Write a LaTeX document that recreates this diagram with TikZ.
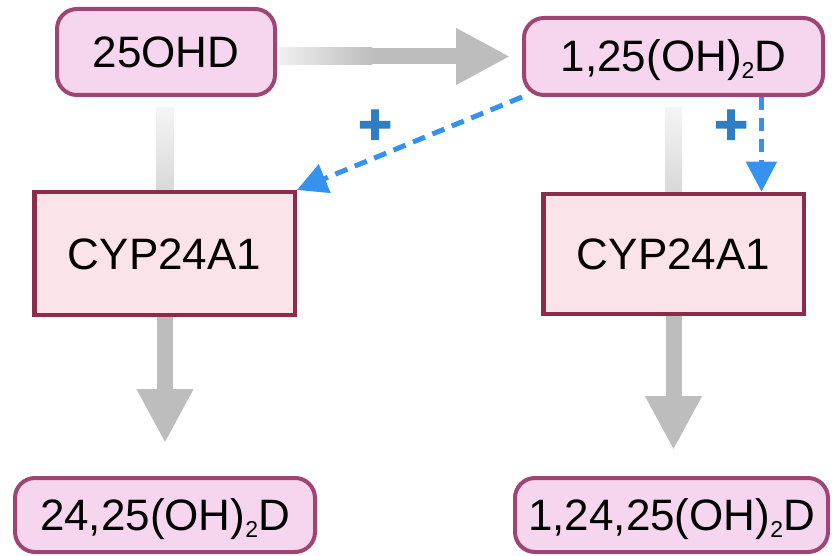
\documentclass[tikz,border=0pt]{standalone}
\usepackage{fontspec}
\setmainfont{Liberation Sans}
\newfontface\plusface[FakeBold=2.5]{Liberation Sans Bold}
\usetikzlibrary{arrows.meta,backgrounds,calc}
\definecolor{roundfill}{HTML}{F6D6EE}
\definecolor{roundline}{HTML}{9E4573}
\definecolor{boxfill}{HTML}{FBE3EA}
\definecolor{boxline}{HTML}{8C2C4C}
\definecolor{arrowgray}{HTML}{BDBDBD}
\definecolor{bluearrow}{HTML}{3592EE}
\definecolor{plusblue}{HTML}{2F7DC3}
\newcommand{\subtwo}{\raisebox{-7pt}{\fontsize{23}{23}\selectfont 2}}
\begin{document}
\begin{tikzpicture}[x=1pt,y=-1pt,
  metab/.style={draw=roundline, line width=4pt, fill=roundfill, rounded corners=20pt,
    inner sep=0pt, text height=31pt, text depth=0pt, font=\fontsize{44}{44}\selectfont},
  enzyme/.style={draw=boxline, line width=4.5pt, fill=boxfill, inner sep=0pt,
    text height=31pt, text depth=0pt, font=\fontsize{44}{44}\selectfont},
  grayarrow/.style={draw=arrowgray, line width=16pt, -{Triangle[length=54pt,width=53pt]}},
  bluedash/.style={draw=bluearrow, line width=5pt, dash pattern=on 13pt off 8pt,
    -{Triangle[length=30pt,width=30pt]}},
  plussign/.style={text=plusblue, inner sep=0pt, font=\fontsize{58}{58}\plusface}]
\useasboundingbox (0,0) rectangle (832,556);

% nodes
\node[metab, minimum width=218pt, minimum height=86pt] (n25) at (166,52) {25OHD};
\node[metab, minimum width=299pt, minimum height=77pt] (n125) at (673.5,56.5) {1,25(OH)\subtwo D};
\node[enzyme, minimum width=260.5pt, minimum height=122.5pt] (cypL) at (164.5,253.5) {CYP24A1};
\node[enzyme, minimum width=260.5pt, minimum height=120pt] (cypR) at (673.5,254) {CYP24A1};
\node[metab, minimum width=300pt, minimum height=74pt] (n2425) at (165,515) {24,25(OH)\subtwo D};
\node[metab, minimum width=313pt, minimum height=74pt] (n12425) at (671.5,515) {1,24,25(OH)\subtwo D};

% gray pathway arrows (behind the enzyme boxes)
\begin{scope}[on background layer]
  \draw[grayarrow, shorten <=3pt, shorten >=12pt] (n25.east |- n125.west) -- (n125.west);
  \shade[left color=gray!12, right color=arrowgray]
    ($(n25.east |- n125.west)+(2,-8.5)$) rectangle ($(n25.east |- n125.west)+(95,8.5)$);
  \draw[grayarrow, shorten <=12pt, shorten >=33pt] (n25.south -| n2425.north) -- (n2425.north);
  \shade[top color=gray!8, bottom color=gray!32]
    ($(n25.south -| n2425.north)+(-8.5,11)$) rectangle ($(n25.south -| n2425.north)+(8.5,100)$);
  \draw[grayarrow, shorten <=12pt, shorten >=26pt] (n125.south) -- (n125.south |- n12425.north);
  \shade[top color=gray!8, bottom color=gray!32]
    ($(n125.south)+(-8.5,11)$) rectangle ($(n125.south)+(8.5,100)$);
\end{scope}

% blue dashed activation arrows
\coordinate (rtop) at ($(n125.south)!0.5805!(n125.south east)$);
\coordinate (rbot) at (rtop |- cypR.north);
\draw[bluedash] (n125.south west) -- (cypL.north east);
\draw[bluedash] (rtop) -- (rbot);

% plus labels
\node[plussign] (p1) at (375,127) {+};
\node[plussign] (p2) at (731,127) {+};
\end{tikzpicture}
\end{document}
